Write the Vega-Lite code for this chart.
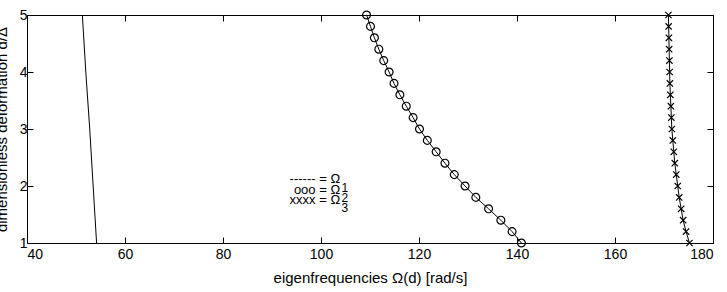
{
  "$schema": "https://vega.github.io/schema/vega-lite/v6.json",
  "width": 686,
  "height": 228,
  "autosize": "none",
  "padding": {"left": 27, "top": 15, "right": 14, "bottom": 49},
  "background": "white",
  "config": {
    "view": {"stroke": "black", "strokeWidth": 1},
    "font": "Liberation Sans",
    "axis": {
      "domain": false, "grid": false, "ticks": true, "tickColor": "#000000", "tickOpacity": 1, "tickSize": 6, "tickWidth": 1, "offset": -6,
      "labelColor": "black", "titleColor": "black", "labelFont": "Liberation Sans", "titleFont": "Liberation Sans",
      "labelFontSize": 14, "titleFontSize": 15, "titleFontWeight": "normal"
    }
  },
  "datasets": {
    "curves": [
      {"mode": "1", "d": 1.0, "omega": 54.2},
      {"mode": "1", "d": 2.0, "omega": 53.5},
      {"mode": "1", "d": 3.0, "omega": 52.8},
      {"mode": "1", "d": 4.0, "omega": 52.0},
      {"mode": "1", "d": 5.0, "omega": 51.3},
      {"mode": "2", "d": 5.0, "omega": 109.3},
      {"mode": "2", "d": 4.8, "omega": 110.1},
      {"mode": "2", "d": 4.6, "omega": 110.9},
      {"mode": "2", "d": 4.4, "omega": 111.8},
      {"mode": "2", "d": 4.2, "omega": 112.8},
      {"mode": "2", "d": 4.0, "omega": 113.9},
      {"mode": "2", "d": 3.8, "omega": 114.9},
      {"mode": "2", "d": 3.6, "omega": 116.1},
      {"mode": "2", "d": 3.4, "omega": 117.4},
      {"mode": "2", "d": 3.2, "omega": 118.8},
      {"mode": "2", "d": 3.0, "omega": 120.1},
      {"mode": "2", "d": 2.8, "omega": 121.7},
      {"mode": "2", "d": 2.6, "omega": 123.5},
      {"mode": "2", "d": 2.4, "omega": 125.3},
      {"mode": "2", "d": 2.2, "omega": 127.2},
      {"mode": "2", "d": 2.0, "omega": 129.4},
      {"mode": "2", "d": 1.8, "omega": 131.6},
      {"mode": "2", "d": 1.6, "omega": 134.2},
      {"mode": "2", "d": 1.4, "omega": 136.7},
      {"mode": "2", "d": 1.2, "omega": 139.0},
      {"mode": "2", "d": 1.0, "omega": 140.9},
      {"mode": "3", "d": 5.0, "omega": 170.9},
      {"mode": "3", "d": 4.8, "omega": 170.95},
      {"mode": "3", "d": 4.6, "omega": 171.0},
      {"mode": "3", "d": 4.4, "omega": 171.05},
      {"mode": "3", "d": 4.2, "omega": 171.1},
      {"mode": "3", "d": 4.0, "omega": 171.15},
      {"mode": "3", "d": 3.8, "omega": 171.2},
      {"mode": "3", "d": 3.6, "omega": 171.3},
      {"mode": "3", "d": 3.4, "omega": 171.4},
      {"mode": "3", "d": 3.2, "omega": 171.5},
      {"mode": "3", "d": 3.0, "omega": 171.6},
      {"mode": "3", "d": 2.8, "omega": 171.8},
      {"mode": "3", "d": 2.6, "omega": 172.0},
      {"mode": "3", "d": 2.4, "omega": 172.2},
      {"mode": "3", "d": 2.2, "omega": 172.5},
      {"mode": "3", "d": 2.0, "omega": 172.8},
      {"mode": "3", "d": 1.8, "omega": 173.1},
      {"mode": "3", "d": 1.6, "omega": 173.5},
      {"mode": "3", "d": 1.4, "omega": 173.9},
      {"mode": "3", "d": 1.2, "omega": 174.5},
      {"mode": "3", "d": 1.0, "omega": 175.2}
    ],
    "legend": [
      {"lx": 103.9, "ly": 2.12, "t": "------ = Ω"},
      {"lx": 103.9, "ly": 1.93, "t": "ooo = Ω"},
      {"lx": 103.9, "ly": 1.754, "t": "xxxx = Ω"}
    ],
    "subs": [
      {"lx": 104.2, "ly": 1.97, "t": "1"},
      {"lx": 104.2, "ly": 1.79, "t": "2"},
      {"lx": 104.2, "ly": 1.62, "t": "3"}
    ]
  },
  "layer": [
    {
      "data": {"name": "curves"},
      "mark": {"type": "line", "color": "black", "strokeWidth": 1},
      "encoding": {
        "x": {"field": "omega", "type": "quantitative",
          "scale": {"domain": [40, 180], "nice": false, "zero": false},
          "axis": {"orient": "bottom", "values": [40, 60, 80, 100, 120, 140, 160, 180], "ticks": true, "tickSize": 6, "labelPadding": 4,
            "title": "eigenfrequencies Ω(d) [rad/s]", "titleBaseline": "alphabetic", "titleY": 45}},
        "y": {"field": "d", "type": "quantitative",
          "scale": {"domain": [1, 5], "nice": false, "zero": false},
          "axis": {"orient": "left", "values": [1, 2, 3, 4, 5], "ticks": true, "tickSize": 6, "labelPadding": 0,
            "title": "dimensionless deformation d/Δ", "titleBaseline": "alphabetic", "titleX": -27, "titleY": 114, "titleAngle": -90}},
        "detail": {"field": "mode"},
        "order": {"field": "d", "type": "quantitative"}
      }
    },
    {
      "data": {"name": "curves"},
      "transform": [{"filter": "datum.mode == '2'"}],
      "mark": {"type": "point", "shape": "circle", "filled": false, "stroke": "black", "strokeWidth": 1.2, "size": 62, "opacity": 1},
      "encoding": {
        "x": {"field": "omega", "type": "quantitative", "axis": {"orient": "top", "values": [40, 60, 80, 100, 120, 140, 160, 180], "ticks": true, "tickSize": 6, "labels": false, "title": null}},
        "y": {"field": "d", "type": "quantitative", "axis": {"orient": "right", "values": [1, 2, 3, 4, 5], "ticks": true, "tickSize": 6, "labels": false, "title": null}}
      }
    },
    {
      "data": {"name": "curves"},
      "transform": [{"filter": "datum.mode == '3'"}],
      "mark": {"type": "point", "shape": "M-1,-1L1,1M-1,1L1,-1", "filled": false, "stroke": "black", "strokeWidth": 1.2, "size": 40, "opacity": 1},
      "encoding": {
        "x": {"field": "omega", "type": "quantitative", "axis": null},
        "y": {"field": "d", "type": "quantitative", "axis": null}
      }
    },
    {
      "data": {"name": "legend"},
      "mark": {"type": "text", "align": "right", "baseline": "middle", "fontSize": 13, "color": "black", "font": "Liberation Sans"},
      "encoding": {
        "x": {"field": "lx", "type": "quantitative", "axis": null},
        "y": {"field": "ly", "type": "quantitative", "axis": null},
        "text": {"field": "t"}
      }
    },
    {
      "data": {"name": "subs"},
      "mark": {"type": "text", "align": "left", "baseline": "middle", "fontSize": 12, "color": "black", "font": "Liberation Sans"},
      "encoding": {
        "x": {"field": "lx", "type": "quantitative", "axis": null},
        "y": {"field": "ly", "type": "quantitative", "axis": null},
        "text": {"field": "t"}
      }
    }
  ],
  "resolve": {"axis": {"x": "independent", "y": "independent"}}
}
